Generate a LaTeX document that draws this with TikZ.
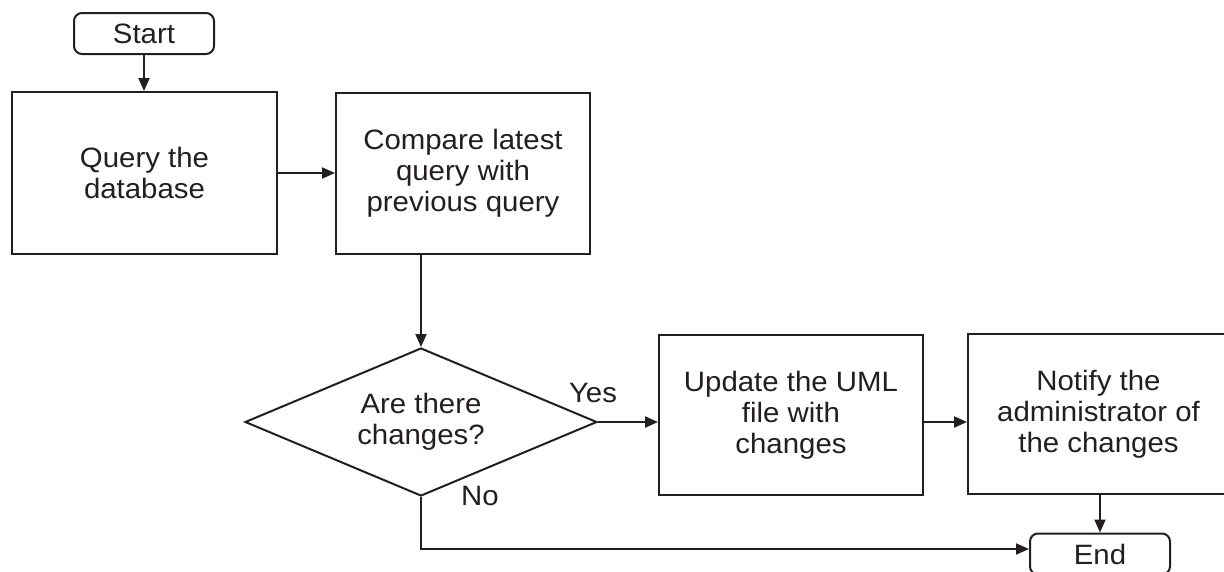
\documentclass[tikz,border=0pt]{standalone}
\usepackage{fontspec}
\setmainfont{Liberation Sans}[FakeStretch=1.05]
\usetikzlibrary{arrows.meta,shapes.geometric}
\definecolor{ink}{HTML}{231F20}
\begin{document}
\begin{tikzpicture}[x=1pt,y=-1pt,
  every node/.style={font=\fontsize{28}{31}\selectfont, text=ink},
  proc/.style={draw=ink, line width=2pt, rectangle, align=center, inner sep=0pt},
  term/.style={proc, rounded corners=8pt, minimum width=140pt, minimum height=41pt},
  decision/.style={draw=ink, line width=2pt, diamond, align=center, inner sep=0pt,
    minimum width=352pt, minimum height=148pt, aspect=2.38},
  flow/.style={draw=ink, line width=2pt, -{Triangle[length=13pt,width=11pt]}},
  lbl/.style={inner sep=0pt}]
  \useasboundingbox (0,0) rectangle (1224,571);

  % terminals
  \node[term] (start) at (144,33.5) {Start};
  \node[term] (end) at (1100,554) {End};

  % process boxes
  \node[proc, minimum width=265pt, minimum height=162pt] (query) at (144.5,173)
    {Query the\\database};
  \node[proc, minimum width=254pt, minimum height=161pt] (cmp) at (463,173.5)
    {Compare latest\\query with\\previous query};
  \node[proc, minimum width=264pt, minimum height=160pt] (upd) at (791,415)
    {Update the UML\\file with\\changes};
  \node[proc, minimum width=261pt, minimum height=160pt] (ntf) at (1098.5,414)
    {Notify the\\administrator of\\the changes};

  % decision
  \node[decision] (dia) at (421,422) {Are there\\changes?};

  % branch labels
  \node[lbl] (yes) at (593,393) {Yes};
  \node[lbl] (no) at (480,496) {No};

  % connectors
  \draw[flow] (start.south) -- (start.south |- query.north);
  \draw[flow] (query.east) -- (query.east -| cmp.west);
  \draw[flow] (dia.north |- cmp.south) -- (dia.north);
  \draw[flow] (dia.east) -- (dia.east -| upd.west);
  \draw[flow] (upd.east |- dia.east) -- (ntf.west |- dia.east);
  \draw[flow] (end.north |- ntf.south) -- (end.north);
  \draw[flow] (dia.south) |- ([yshift=5pt]end.west);
\end{tikzpicture}
\end{document}
